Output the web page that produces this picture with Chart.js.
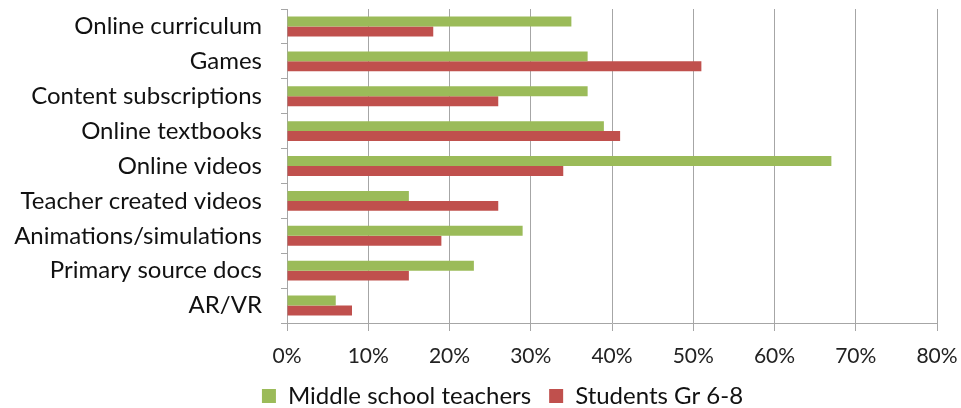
<!DOCTYPE html>
<html>
<head>
<meta charset="utf-8">
<script src="https://cdn.jsdelivr.net/npm/chart.js@4/dist/chart.umd.min.js"></script>
<style>
  html, body { margin: 0; padding: 0; background: #fff; }
  #wrap { width: 961px; height: 408px; position: relative; }
</style>
</head>
<body>
<div id="wrap"><canvas id="chart"></canvas></div>
<script>
// categories, top to bottom
const categories = [
    'Online curriculum', 'Games', 'Content subscriptions', 'Online textbooks',
    'Online videos', 'Teacher created videos', 'Animations/simulations',
    'Primary source docs', 'AR/VR'
];
const teachers = [35, 37, 37, 39, 67, 15, 29, 23, 6];
const students = [18, 51, 26, 41, 34, 26, 19, 15, 8];
const xTicks = [0, 10, 20, 30, 40, 50, 60, 70, 80];

// the legend in the original sits a bit right of the page centre
const shiftLegend = {
    id: 'shiftLegend',
    afterLayout(chart) {
        chart.legend.left += 44;
    }
};

const ctx = document.getElementById('chart').getContext('2d');
new Chart(ctx, {
    type: 'bar',
    data: {
        labels: categories,
        datasets: [{
            label: 'Middle school teachers',
            data: teachers,
            backgroundColor: '#9bbb59',
            barPercentage: 1.0,
            categoryPercentage: 0.57
        }, {
            label: 'Students Gr 6-8',
            data: students,
            backgroundColor: '#c0504d',
            barPercentage: 1.0,
            categoryPercentage: 0.57
        }]
    },
    options: {
        indexAxis: 'y',
        responsive: true,
        maintainAspectRatio: false,
        animation: false,
        layout: { padding: { top: 9, right: 0, bottom: -10, left: 0 } },
        scales: {
            x: {
                min: 0,
                max: 80,
                afterBuildTicks(axis) {
                    axis.ticks = xTicks.map(v => ({ value: v }));
                },
                afterFit(axis) {
                    axis.height = 43;
                    axis.paddingRight = 24;
                },
                ticks: {
                    callback: v => v + '%',
                    color: '#222',
                    font: { family: 'Lato', size: 21 },
                    padding: 13
                },
                grid: { color: '#a6a6a6', tickLength: 8, lineWidth: 1 },
                border: { color: '#a6a6a6' }
            },
            y: {
                afterFit(axis) {
                    axis.width = 287;
                    axis.paddingTop = 0;
                    axis.paddingBottom = 0;
                },
                ticks: {
                    color: '#111',
                    font: { family: 'Lato', size: 24 },
                    padding: 19
                },
                grid: {
                    offset: true,
                    drawOnChartArea: false,
                    color: '#a6a6a6',
                    tickLength: 6
                },
                border: { color: '#a6a6a6' }
            }
        },
        plugins: {
            legend: {
                position: 'bottom',
                labels: {
                    boxWidth: 14,
                    boxHeight: 14,
                    color: '#111',
                    font: { family: 'Lato', size: 24 },
                    padding: 18
                }
            },
            tooltip: { enabled: false }
        }
    },
    plugins: [shiftLegend]
});
</script>
</body>
</html>
